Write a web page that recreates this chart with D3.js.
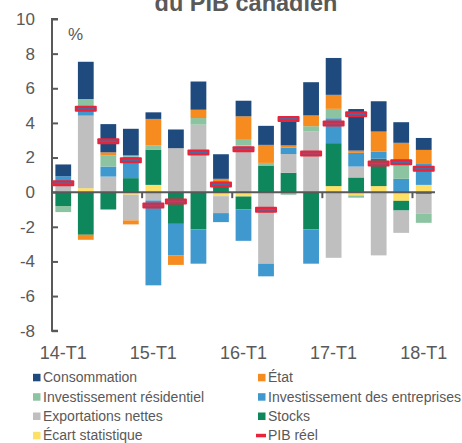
<!DOCTYPE html>
<html><head><meta charset="utf-8">
<script src="https://cdn.jsdelivr.net/npm/d3@7"></script>
<style>body{margin:0;background:#fff}svg{display:block}text{font-family:"Liberation Sans",Arial,sans-serif;fill:#595959}</style>
</head><body><svg id="c" width="462" height="443"></svg>
<script>
const quarters = ["14-T1","14-T2","14-T3","14-T4","15-T1","15-T2","15-T3","15-T4","16-T1","16-T2","16-T3","16-T4","17-T1","17-T2","17-T3","17-T4","18-T1"];
const tickLabels = ["14-T1","15-T1","16-T1","17-T1","18-T1"];
const yTicks = [10,8,6,4,2,0,-2,-4,-6,-8];
const consommation = [0.68,2.15,1.63,1.54,0.38,1.08,1.63,1.42,0.9,1.1,1.67,1.92,2.13,2.4,1.75,1.19,0.69];
const etat = [0,-0.29,0.19,-0.23,1.54,-0.54,0.48,0.14,1.31,1.04,0.12,0.62,0.81,0.13,1.15,1.27,0.77];
const invResidentiel = [-0.35,0.42,0.63,0.06,0.23,0,0.38,0,0.38,0.15,-0.15,0.31,0.54,-0.13,0,0.81,-0.52];
const invEntreprises = [0.35,0.54,0.58,1.25,-4.9,-1.83,-1.98,-0.52,-1.81,-0.73,0.38,-1.98,1.44,0.79,0.42,0.77,1.25];
const exportations = [0.57,4.19,0.9,-1.48,-0.48,2.54,3.9,-0.98,2.69,-4.13,1.08,3.5,-3.79,0.63,-3.65,-1.29,-1.15];
const stocks = [-0.8,-2.46,-1.0,0.81,2.04,-1.83,-2.15,0.63,-0.75,1.54,1.12,-2.15,2.48,0.85,1.58,-0.56,-0.1];
const ecart = [0,0.23,0,-0.15,0.42,0,0,-0.23,-0.25,0,0,0,0.35,-0.19,0.35,-0.5,0.42];
const pib = [0.52,4.81,2.94,1.85,-0.77,-0.54,2.29,0.44,2.48,-1.02,4.23,2.23,3.96,4.5,1.65,1.73,1.35];

const series = [
  {key:"Écart statistique", vals:ecart, color:"#FFE066"},
  {key:"Stocks", vals:stocks, color:"#0E875C"},
  {key:"Exportations nettes", vals:exportations, color:"#BFBFBF"},
  {key:"Investissement des entreprises", vals:invEntreprises, color:"#3F98CE"},
  {key:"Investissement résidentiel", vals:invResidentiel, color:"#8CC3A0"},
  {key:"État", vals:etat, color:"#F68B1F"},
  {key:"Consommation", vals:consommation, color:"#1F4A7E"}
];
const table = quarters.map((q,i)=>{const o={q}; series.forEach(s=>o[s.key]=s.vals[i]); return o;});
const stacked = d3.stack().keys(series.map(s=>s.key)).offset(d3.stackOffsetDiverging)(table);

const svg = d3.select("#c");
const x = d3.scaleBand().domain(quarters).range([52,435]).paddingInner(0.3).paddingOuter(0.15);
const y = d3.scaleLinear().domain([-8,10]).range([330.7,19]);

svg.append("text").attr("x",246).attr("y",11).attr("text-anchor","middle")
  .style("font-size","23.5px").style("font-weight","bold").text("du PIB canadien");

// bars
stacked.forEach((layer,li)=>{
  svg.append("g").attr("fill",series[li].color).selectAll("rect").data(layer).join("rect")
    .attr("x",d=>x(d.data.q)).attr("width",x.bandwidth())
    .attr("y",d=>y(Math.max(d[0],d[1]))).attr("height",d=>Math.abs(y(d[0])-y(d[1])));
});

// y axis
const yAxis = svg.append("g").attr("transform","translate(52,0)")
  .call(d3.axisRight(y).tickValues(yTicks).tickSize(6).tickFormat(""));
yAxis.select(".domain").attr("stroke","#595959").attr("stroke-width",2).attr("d","M6,19H0V330.7H6");
yAxis.selectAll(".tick line").attr("stroke","#595959").attr("stroke-width",2);
svg.append("g").selectAll("text").data(yTicks).join("text")
  .attr("x",35).attr("y",d=>y(d)).attr("dy","0.35em").attr("text-anchor","end")
  .style("font-size","17px").text(d=>d);

// x axis at zero
const y0 = y(0);
svg.append("line").attr("x1",52).attr("x2",435).attr("y1",y0).attr("y2",y0)
  .attr("stroke","#595959").attr("stroke-width",2);
const step = x.step();
const boundaries = [4,8,12,16].map(i=>x(quarters[i]) - (step - x.bandwidth())/2);
svg.append("g").selectAll("line").data(boundaries).join("line")
  .attr("x1",d=>d).attr("x2",d=>d).attr("y1",y0).attr("y2",y0+6)
  .attr("stroke","#595959").attr("stroke-width",2);
svg.append("g").selectAll("text").data(tickLabels).join("text")
  .attr("x",d=>x(d)+x.bandwidth()/2).attr("y",359).attr("text-anchor","middle")
  .style("font-size","18px").text(d=>d);

svg.append("text").attr("x",68).attr("y",40).style("font-size","17px").text("%");

// PIB markers
const mk = svg.append("g");
mk.selectAll("rect").data(pib).join("rect")
  .attr("x",(d,i)=>x(quarters[i])+x.bandwidth()/2-11).attr("width",22)
  .attr("y",d=>y(d)-3).attr("height",6).attr("fill","#E8233A").attr("rx",1);
mk.selectAll("line").data(pib).join("line")
  .attr("x1",(d,i)=>x(quarters[i])+x.bandwidth()/2-9).attr("x2",(d,i)=>x(quarters[i])+x.bandwidth()/2+9)
  .attr("y1",d=>y(d)).attr("y2",d=>y(d)).attr("stroke","#4F6A9E").attr("stroke-width",1.6);

// legend
const legendItems = [
  {key:"Consommation",col:0,row:0},{key:"État",col:1,row:0},
  {key:"Investissement résidentiel",col:0,row:1},{key:"Investissement des entreprises",col:1,row:1},
  {key:"Exportations nettes",col:0,row:2},{key:"Stocks",col:1,row:2},
  {key:"Écart statistique",col:0,row:3},{key:"PIB réel",col:1,row:3}
];
const colX=[33,258], rowY=[377.3,396.7,416,435.3];
const lg = svg.append("g");
legendItems.forEach(it=>{
  const s = series.find(s=>s.key===it.key);
  const lx = colX[it.col], ly = rowY[it.row];
  if(s){
    lg.append("rect").attr("x",lx).attr("y",ly-3.5).attr("width",7.5).attr("height",7.5).attr("fill",s.color);
  } else {
    lg.append("rect").attr("x",lx-2).attr("y",ly-1.5).attr("width",10).attr("height",3.5).attr("fill","#E8233A");
  }
  lg.append("text").attr("x",lx+10).attr("y",ly).attr("dy","0.35em").style("font-size","14px").text(it.key);
});
</script></body></html>
